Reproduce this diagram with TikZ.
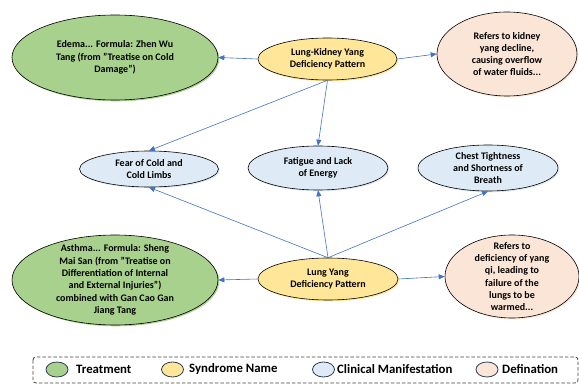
\documentclass[tikz,border=0pt]{standalone}
\usepackage{fontspec}
\setmainfont{Carlito}
\usetikzlibrary{shapes.geometric,arrows.meta,shadows}
\definecolor{treat}{HTML}{A9D18E}
\definecolor{synd}{HTML}{FFE699}
\definecolor{clin}{HTML}{DEEBF7}
\definecolor{defn}{HTML}{FBE5D6}
\definecolor{arrowblue}{HTML}{4472C4}
\definecolor{keyline}{HTML}{2F3B55}
\begin{document}
\begin{tikzpicture}[x=1pt,y=-1pt,
  blob/.style={ellipse,draw=black,line width=0.6pt,inner xsep=0pt,inner ysep=-8pt,
    align=center,font=\fontsize{10}{12.3}\selectfont\bfseries,
    fill=#1,general shadow={fill=#1,shadow xshift=1.3pt,shadow yshift=-1.3pt}},
  feeds/.style={draw=arrowblue,line width=0.6pt,-{Triangle[length=6pt,width=5pt]}}]
\useasboundingbox (0,0) rectangle (579,385);
% syndromes
\node[blob=synd,minimum width=139pt,minimum height=42pt] (lkyang) at (327.5,59) {Lung-Kidney Yang\\Deficiency Pattern};
\node[blob=synd,minimum width=140pt,minimum height=42pt] (lyang) at (328,279) {Lung Yang\\Deficiency Pattern};
% treatments
\node[blob=treat,minimum width=206pt,minimum height=85pt] (edema) at (115,57.5) {Edema... Formula: Zhen Wu\\Tang (from "Treatise on Cold\\Damage")};
\node[blob=treat,minimum width=206pt,minimum height=90pt] (asthma) at (115,280) {Asthma... Formula: Sheng\\Mai San (from "Treatise on\\Differentiation of Internal\\and External Injuries")\\combined with Gan Cao Gan\\Jiang Tang};
% definitions
\node[blob=defn,minimum width=140pt,minimum height=84pt] (kidneydef) at (507,54) {Refers to kidney\\yang decline,\\causing overflow\\of water fluids...};
\node[blob=defn,minimum width=134pt,minimum height=83pt] (qidef) at (512,276.5) {Refers to\\deficiency of yang\\qi, leading to\\failure of the\\lungs to be\\warmed...};
% manifestations
\node[blob=clin,minimum width=139pt,minimum height=36pt] (fear) at (149,169) {Fear of Cold and\\Cold Limbs};
\node[blob=clin,minimum width=140pt,minimum height=44pt] (fatigue) at (318,168) {Fatigue and Lack\\of Energy};
\node[blob=clin,minimum width=140pt,minimum height=46pt] (chest) at (488,168) {Chest Tightness\\and Shortness of\\Breath};
% links
\draw[feeds] (lkyang.west) -- (edema.east);
\draw[feeds] (lkyang.east) -- (kidneydef.west);
\draw[feeds] (lkyang.south) -- (fear.north);
\draw[feeds] (lkyang.south) -- (fatigue.north);
\draw[feeds] (lyang.north) -- (fear.south);
\draw[feeds] (lyang.north) -- (fatigue.south);
\draw[feeds] (lyang.north) -- (chest.south);
\draw[feeds] (lyang.west) -- (asthma.east);
\draw[feeds] (lyang.east) -- (qidef.west);
% legend
\draw[draw=black!75,line width=0.8pt,dash pattern=on 3.5pt off 2pt,rounded corners=3pt] (33,357) rectangle (578,383);
\foreach \c/\x/\tx/\t in {treat/57/76/Treatment,synd/172.5/189/Syndrome Name,clin/323.5/337/Clinical Manifestation,defn/487/502/Defination} {
  \node[ellipse,draw=keyline,line width=0.8pt,fill=\c,minimum width=22pt,minimum height=15pt,inner sep=0pt] (key\c) at (\x,369.5) {};
  \node[anchor=west,inner sep=0pt,font=\fontsize{12.8}{15}\selectfont\bfseries] (keytext\c) at (\tx,369.5) {\t};
};
\end{tikzpicture}
\end{document}
